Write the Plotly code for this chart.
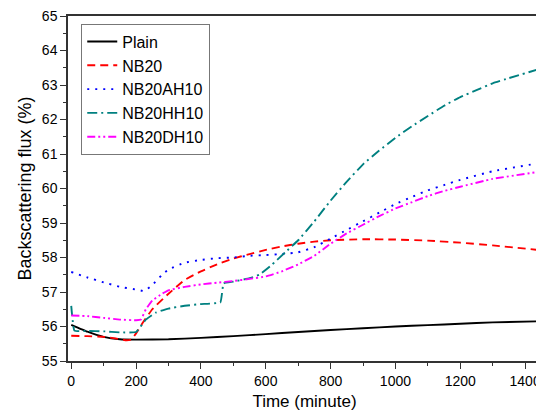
import plotly.graph_objects as go

# Time (minute) grid per series and backscattering flux values (%)
plain_t = [0, 50, 100, 150, 200, 300, 400, 500, 600, 700, 800, 900, 1000, 1100, 1200, 1300, 1440]
plain_v = [56.05, 55.85, 55.7, 55.63, 55.62, 55.63, 55.67, 55.72, 55.78, 55.84, 55.9, 55.95, 56.0, 56.04, 56.08, 56.12, 56.15]

nb20_t = [0, 50, 100, 140, 170, 185, 200, 220, 250, 300, 350, 400, 450, 500, 550, 600, 650, 700, 750, 800, 900, 1000, 1100, 1200, 1300, 1440]
nb20_v = [55.73, 55.72, 55.7, 55.65, 55.6, 55.62, 55.8, 56.1, 56.5, 56.95, 57.35, 57.6, 57.8, 57.97, 58.1, 58.22, 58.32, 58.4, 58.46, 58.5, 58.53, 58.52, 58.49, 58.43, 58.35, 58.22]

ah_t = [0, 50, 100, 150, 200, 225, 250, 280, 300, 350, 400, 450, 500, 550, 600, 650, 700, 750, 800, 850, 900, 950, 1000, 1050, 1100, 1150, 1200, 1300, 1440]
ah_v = [57.58, 57.42, 57.28, 57.15, 57.07, 57.03, 57.2, 57.5, 57.65, 57.85, 57.93, 57.98, 58.0, 58.05, 58.07, 58.1, 58.15, 58.3, 58.55, 58.8, 59.05, 59.3, 59.55, 59.75, 59.95, 60.1, 60.25, 60.5, 60.73]

hh_t = [0, 10, 50, 100, 150, 200, 230, 260, 300, 350, 400, 460, 470, 500, 550, 580, 620, 660, 700, 750, 800, 850, 900, 950, 1000, 1050, 1100, 1150, 1200, 1250, 1300, 1350, 1440]
hh_v = [56.6, 55.88, 55.87, 55.86, 55.83, 55.84, 56.2, 56.4, 56.52, 56.6, 56.65, 56.7, 57.25, 57.3, 57.4, 57.5, 57.8, 58.15, 58.5, 59.05, 59.65, 60.2, 60.7, 61.1, 61.47, 61.8, 62.1, 62.4, 62.65, 62.85, 63.05, 63.2, 63.45]

dh_t = [0, 50, 100, 150, 200, 215, 230, 250, 280, 300, 350, 400, 450, 500, 550, 600, 650, 700, 750, 800, 850, 900, 950, 1000, 1050, 1100, 1150, 1200, 1300, 1440]
dh_v = [56.32, 56.3, 56.25, 56.2, 56.18, 56.2, 56.5, 56.75, 56.95, 57.05, 57.15, 57.22, 57.27, 57.32, 57.38, 57.45, 57.6, 57.8, 58.05, 58.4, 58.7, 58.95, 59.2, 59.42, 59.6, 59.78, 59.93, 60.05, 60.28, 60.48]

names = ["Plain", "NB20", "NB20AH10", "NB20HH10", "NB20DH10"]
colors = ["#000000", "#ff0000", "#0000ff", "#008080", "#ff00ff"]
dashes = ["solid", "8px,5px", "2px,6px", "10px,4px,2px,4px", "8px,3px,2px,3px,2px,3px"]
series = [(plain_t, plain_v), (nb20_t, nb20_v), (ah_t, ah_v), (hh_t, hh_v), (dh_t, dh_v)]

x_ticks = [0, 200, 400, 600, 800, 1000, 1200, 1400]
y_ticks = [55, 56, 57, 58, 59, 60, 61, 62, 63, 64, 65]

fig = go.Figure()
for (t, v), n, c, d in zip(series, names, colors, dashes):
    fig.add_trace(go.Scatter(x=t, y=v, mode="lines", name=n,
                             line=dict(color=c, width=1.9, dash=d, shape="spline", smoothing=0.3)))

font = "Liberation Sans, Arial, sans-serif"
# the page body has an 8px margin; the figure is sized to sit inside the 544x413 window
fig.update_layout(
    width=536, height=405,
    margin=dict(l=60, r=3, t=8, b=52),
    paper_bgcolor="white", plot_bgcolor="white",
    font=dict(family=font, size=14, color="#000"),
    showlegend=True,
    legend=dict(x=0.028, y=0.978, xanchor="left", yanchor="top",
                bordercolor="#777", borderwidth=1, bgcolor="white",
                font=dict(size=16), tracegroupgap=0, itemwidth=30),
)
fig.update_xaxes(
    range=[-10, 1449], tickvals=x_ticks, ticktext=[str(v) for v in x_ticks],
    automargin=False, ticklabeloverflow="allow",
    showgrid=False, zeroline=False, showline=True, linecolor="#333", linewidth=1.5, mirror=True,
    ticks="outside", ticklen=6, tickwidth=1.2, tickcolor="#333",
    minor=dict(dtick=100, tick0=0, ticks="outside", ticklen=3, tickcolor="#333", showgrid=False),
    tickfont=dict(size=14),
    title=dict(text="Time (minute)", font=dict(size=17), standoff=8),
)
fig.update_yaxes(
    range=[55, 65], tickvals=y_ticks, ticktext=[str(v) for v in y_ticks],
    automargin=False, ticklabeloverflow="allow",
    showgrid=False, zeroline=False, showline=True, linecolor="#333", linewidth=1.5, mirror=True,
    ticks="outside", ticklen=6, tickwidth=1.2, tickcolor="#333",
    minor=dict(dtick=0.5, tick0=55, ticks="outside", ticklen=3, tickcolor="#333", showgrid=False),
    tickfont=dict(size=14),
    title=dict(text="Backscattering flux (%)", font=dict(size=18), standoff=6),
)

fig.write_html("out.html")
